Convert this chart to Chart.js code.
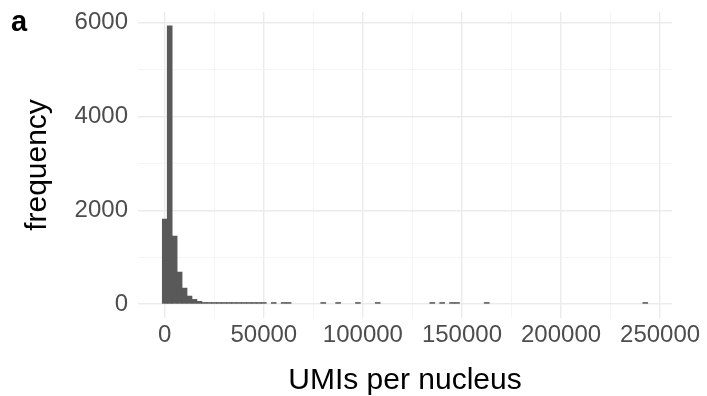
<!DOCTYPE html>
<html>
<head>
<meta charset="utf-8">
<script src="https://cdn.jsdelivr.net/npm/chart.js@4"></script>
<style>
  body { margin: 0; background: #fff; }
  #wrap { width: 707px; height: 396px; position: relative; }
</style>
</head>
<body>
<div id="wrap"><canvas id="histChart"></canvas></div>
<script>
// histogram of UMIs per nucleus, bins 2500 wide centred on multiples of 2500
const binWidth = 2500
const counts = [
  1814, 5934, 1451, 683, 341, 171, 100, 58, 35, 28,
  18, 15, 12, 10, 9, 7, 6, 5, 4, 4,
  3, 0, 2, 0, 2, 1, 0, 0, 0, 0,
  0, 0, 1, 0, 0, 1, 0, 0, 0, 1,
  0, 0, 0, 1, 0, 0, 0, 0, 0, 0,
  0, 0, 0, 0, 1, 0, 1, 0, 1, 1,
  0, 0, 0, 0, 0, 1, 0, 0, 0, 0,
  0, 0, 0, 0, 0, 0, 0, 0, 0, 0,
  0, 0, 0, 0, 0, 0, 0, 0, 0, 0,
  0, 0, 0, 0, 0, 0, 0, 1
]
const binCenters = counts.map((_, i) => i * binWidth)

const xTicks = [0, 25000, 50000, 75000, 100000, 125000, 150000, 175000, 200000, 225000, 250000]
const xLabelTicks = [0, 50000, 100000, 150000, 200000, 250000]
const yTicks = [0, 1000, 2000, 3000, 4000, 5000, 6000]
const yLabelTicks = [0, 2000, 4000, 6000]

const panelLabel = {
  id: "panelLabel",
  afterDraw(chart) {
    const ctx = chart.ctx
    ctx.save()
    ctx.font = "bold 29px 'Liberation Sans', Arial, sans-serif"
    ctx.fillStyle = "#000"
    ctx.textBaseline = "alphabetic"
    ctx.fillText("a", 11, 31)
    ctx.restore()
  }
}

const gridColor = (ctx, labelled) => labelled.includes(ctx.tick.value) ? "#EBEBEB" : "#F3F3F3"
const gridWidth = (ctx, labelled) => labelled.includes(ctx.tick.value) ? 1.4 : 0.8

new Chart(document.getElementById("histChart"), {
  type: "bar",
  data: {
    datasets: [{
      label: "frequency",
      data: binCenters.map((x, i) => ({ x: x, y: counts[i] > 0 ? counts[i] : null })),
      backgroundColor: "#595959",
      borderWidth: 0,
      barPercentage: 1.0,
      categoryPercentage: 1.0,
      minBarLength: 1.6
    }]
  },
  options: {
    responsive: true,
    maintainAspectRatio: false,
    animation: false,
    layout: { padding: { left: 0, top: 12, right: 35, bottom: 0 } },
    plugins: {
      legend: { display: false },
      tooltip: { enabled: false }
    },
    scales: {
      x: {
        type: "linear",
        min: -13500,
        max: 256000,
        offset: false,
        afterBuildTicks: s => { s.ticks = xTicks.map(v => ({ value: v })) },
        afterFit: s => { s.height = 78; s.paddingLeft = 0; s.paddingRight = 0 },
        border: { display: false },
        grid: {
          offset: false,
          drawTicks: false,
          color: ctx => gridColor(ctx, xLabelTicks),
          lineWidth: ctx => gridWidth(ctx, xLabelTicks)
        },
        ticks: {
          autoSkip: false,
          maxRotation: 0,
          padding: 3,
          color: "#4D4D4D",
          font: { family: "'Liberation Sans', Arial, sans-serif", size: 24 },
          callback: v => xLabelTicks.includes(v) ? String(v) : ""
        },
        title: {
          display: true,
          text: "UMIs per nucleus",
          color: "#000",
          padding: { top: 0, bottom: 0 },
          font: { family: "'Liberation Sans', Arial, sans-serif", size: 30, lineHeight: 1.0 }
        }
      },
      y: {
        min: -297,
        max: 6231,
        afterBuildTicks: s => { s.ticks = yTicks.map(v => ({ value: v })) },
        afterFit: s => { s.width = 138; s.paddingTop = 0; s.paddingBottom = 0 },
        border: { display: false },
        grid: {
          drawTicks: false,
          color: ctx => gridColor(ctx, yLabelTicks),
          lineWidth: ctx => gridWidth(ctx, yLabelTicks)
        },
        ticks: {
          autoSkip: false,
          padding: 10,
          color: "#4D4D4D",
          font: { family: "'Liberation Sans', Arial, sans-serif", size: 24 },
          callback: v => yLabelTicks.includes(v) ? String(v) : ""
        },
        title: {
          display: true,
          text: "frequency",
          color: "#000",
          padding: { top: 20, bottom: 0 },
          font: { family: "'Liberation Sans', Arial, sans-serif", size: 30 }
        }
      }
    }
  },
  plugins: [panelLabel]
})
</script>
</body>
</html>
